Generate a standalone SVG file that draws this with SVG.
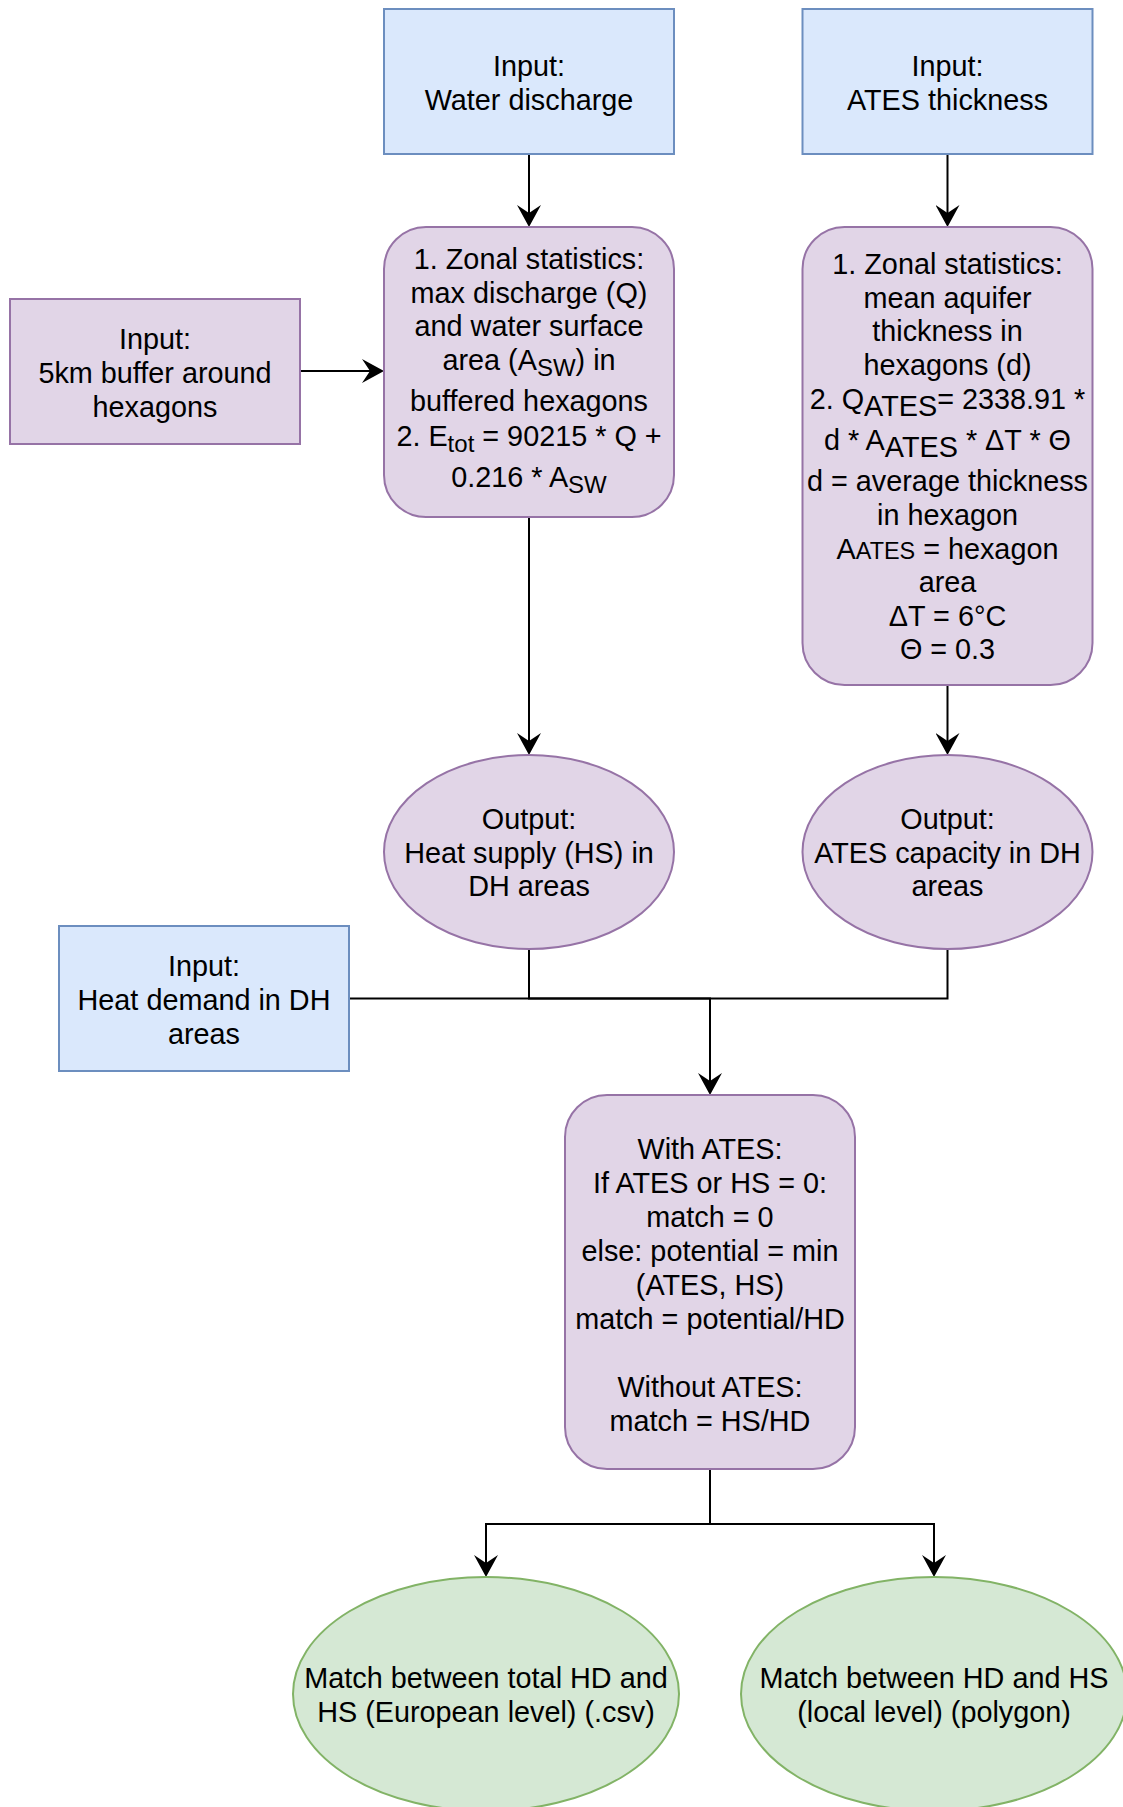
<svg xmlns="http://www.w3.org/2000/svg" width="1123" height="1807" viewBox="0 0 1123 1807">
<style>
.blue{fill:#dae8fc;stroke:#6c8ebf;stroke-width:2}
.purple{fill:#e1d5e7;stroke:#9673a6;stroke-width:2}
.green{fill:#d5e8d4;stroke:#82b366;stroke-width:2}
.t{font-family:"Liberation Sans",Arial,sans-serif;font-size:28.8px;fill:#000;text-anchor:middle;transform:translateY(1px)}
.sub{font-size:24px}
.e{fill:none;stroke:#000;stroke-width:2;marker-end:url(#arr)}
.l{fill:none;stroke:#000;stroke-width:2}
</style>
<defs>
<marker id="arr" markerUnits="userSpaceOnUse" markerWidth="24" markerHeight="24" viewBox="0 0 23 24" refX="8" refY="12" orient="auto">
<path d="M0,0 L22,12 L0,24 L8,12 Z" fill="#000"/>
</marker>
</defs>
<rect width="1123" height="1807" fill="#fff"/>
<g id="connectors">
<path class="e" d="M529,155 V213"/>
<path class="e" d="M947.5,155 V213"/>
<path class="e" d="M301,371 H370"/>
<path class="e" d="M529,517 V741"/>
<path class="e" d="M947.5,685 V741"/>
<path class="l" d="M529,949 V998.5 H710"/>
<path class="l" d="M947.5,949 V998.5 H710"/>
<path class="e" d="M349,998.5 H710 V1081"/>
<path class="l" d="M710,1469 V1524"/>
<path class="e" d="M710,1524 H486 V1563"/>
<path class="e" d="M710,1524 H934 V1563"/>
</g>
<g id="water-discharge">
<rect class="blue" x="384" y="9" width="290" height="145"/>
<text class="t"><tspan x="529" y="75">Input:</tspan><tspan x="529" y="109">Water discharge</tspan></text>
</g>
<g id="ates-thickness">
<rect class="blue" x="802.5" y="9" width="290" height="145"/>
<text class="t"><tspan x="947.5" y="75">Input:</tspan><tspan x="947.5" y="109">ATES thickness</tspan></text>
</g>
<g id="buffer">
<rect class="purple" x="10" y="299" width="290" height="145"/>
<text class="t"><tspan x="155" y="348">Input:</tspan><tspan x="155" y="382">5km buffer around</tspan><tspan x="155" y="416">hexagons</tspan></text>
</g>
<g id="zonal-water">
<rect class="purple" x="384" y="227" width="290" height="290" rx="42" ry="42"/>
<text class="t"><tspan x="529" y="268">1. Zonal statistics:</tspan><tspan x="529" y="302">max discharge (Q)</tspan><tspan x="529" y="335">and water surface</tspan></text>
<text class="t" x="529" y="369">area (A<tspan class="sub" dy="6">SW</tspan><tspan dy="-6">) in</tspan></text>
<text class="t" x="529" y="410">buffered hexagons</text>
<text class="t" x="529" y="444.5">2. E<tspan class="sub" dy="6">tot</tspan><tspan dy="-6"> = 90215 * Q +</tspan></text>
<text class="t" x="529" y="485.5">0.216 * A<tspan class="sub" dy="6">SW</tspan></text>
</g>
<g id="zonal-ates">
<rect class="purple" x="802.5" y="227" width="290" height="458" rx="42" ry="42"/>
<text class="t"><tspan x="947.5" y="273">1. Zonal statistics:</tspan><tspan x="947.5" y="307">mean aquifer</tspan><tspan x="947.5" y="340">thickness in</tspan><tspan x="947.5" y="374">hexagons (d)</tspan></text>
<text class="t" x="947.5" y="408">2. Q<tspan dy="7">ATES</tspan><tspan dy="-7">= 2338.91 *</tspan></text>
<text class="t" x="947.5" y="449">d * A<tspan dy="7">ATES</tspan><tspan dy="-7"> * ΔT * Θ</tspan></text>
<text class="t"><tspan x="947.5" y="490">d = average thickness</tspan><tspan x="947.5" y="524">in hexagon</tspan></text>
<text class="t" x="947.5" y="558">A<tspan style="font-size:23.4px">ATES</tspan> = hexagon</text>
<text class="t"><tspan x="947.5" y="591">area</tspan><tspan x="947.5" y="625">ΔT = 6°C</tspan><tspan x="947.5" y="658">Θ = 0.3</tspan></text>
</g>
<g id="output-hs">
<ellipse class="purple" cx="529" cy="852" rx="145" ry="97"/>
<text class="t"><tspan x="529" y="828">Output:</tspan><tspan x="529" y="862">Heat supply (HS) in</tspan><tspan x="529" y="895">DH areas</tspan></text>
</g>
<g id="output-ates">
<ellipse class="purple" cx="947.5" cy="852" rx="145" ry="97"/>
<text class="t"><tspan x="947.5" y="828">Output:</tspan><tspan x="947.5" y="862">ATES capacity in DH</tspan><tspan x="947.5" y="895">areas</tspan></text>
</g>
<g id="heat-demand">
<rect class="blue" x="59" y="926" width="290" height="145"/>
<text class="t"><tspan x="204" y="975">Input:</tspan><tspan x="204" y="1009">Heat demand in DH</tspan><tspan x="204" y="1043">areas</tspan></text>
</g>
<g id="match-calc">
<rect class="purple" x="565" y="1095" width="290" height="374" rx="42" ry="42"/>
<text class="t"><tspan x="710" y="1158">With ATES:</tspan><tspan x="710" y="1192">If ATES or HS = 0:</tspan><tspan x="710" y="1226">match = 0</tspan><tspan x="710" y="1260">else: potential = min</tspan><tspan x="710" y="1294">(ATES, HS)</tspan><tspan x="710" y="1328">match = potential/HD</tspan><tspan x="710" y="1396">Without ATES:</tspan><tspan x="710" y="1430">match = HS/HD</tspan></text>
</g>
<g id="match-european">
<ellipse class="green" cx="486" cy="1694" rx="193" ry="117"/>
<text class="t"><tspan x="486" y="1687">Match between total HD and</tspan><tspan x="486" y="1721">HS (European level) (.csv)</tspan></text>
</g>
<g id="match-local">
<ellipse class="green" cx="934" cy="1694" rx="193" ry="117"/>
<text class="t"><tspan x="934" y="1687">Match between HD and HS</tspan><tspan x="934" y="1721">(local level) (polygon)</tspan></text>
</g>
</svg>
